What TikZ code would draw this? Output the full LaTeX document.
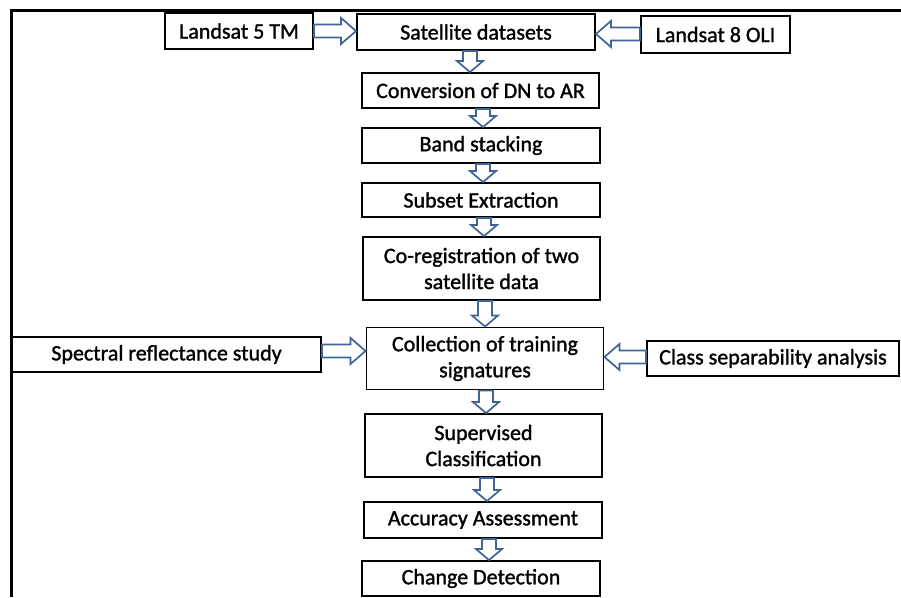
\documentclass[tikz,border=0pt]{standalone}
\usepackage{fontspec}
\setmainfont{Carlito}
\newfontfamily\heavyfont{Carlito}[FakeBold=1.3]
\usetikzlibrary{calc}
\definecolor{arrblue}{RGB}{65,100,150}
\newcommand\darr[3]{\draw[barrow] let \p1=(#1.south), \p2=(#2.north) in
  ({#3pt-7pt},\y1) -- ({#3pt+7pt},\y1) -- ({#3pt+7pt},{\y2+11pt}) -- ({#3pt+13pt},{\y2+11pt})
  -- (#3pt,\y2) -- ({#3pt-13pt},{\y2+11pt}) -- ({#3pt-7pt},{\y2+11pt}) -- cycle;}
\newcommand\rarr[3]{\draw[barrow] let \p1=(#1.east), \p2=(#2.west) in
  (\x1,{-#3pt+6.5pt}) -- ({\x2-15pt},{-#3pt+6.5pt}) -- ({\x2-15pt},{-#3pt+13pt}) -- (\x2,-#3pt)
  -- ({\x2-15pt},{-#3pt-13pt}) -- ({\x2-15pt},{-#3pt-6.5pt}) -- (\x1,{-#3pt-6.5pt}) -- cycle;}
\newcommand\larr[3]{\draw[barrow] let \p1=(#1.west), \p2=(#2.east) in
  (\x1,{-#3pt+6.5pt}) -- ({\x2+15pt},{-#3pt+6.5pt}) -- ({\x2+15pt},{-#3pt+13pt}) -- (\x2,-#3pt)
  -- ({\x2+15pt},{-#3pt-13pt}) -- ({\x2+15pt},{-#3pt-6.5pt}) -- (\x1,{-#3pt-6.5pt}) -- cycle;}
\begin{document}
\begin{tikzpicture}[x=1pt,y=-1pt,
  box/.style={draw=black, line width=1.9pt, inner sep=0pt, align=center,
    font=\heavyfont\fontsize{22}{26}\selectfont, text=black},
  barrow/.style={draw=arrblue, line width=1.7pt, fill=white, line join=miter}]
\useasboundingbox (0,0) rectangle (901,597);
\draw[line width=3pt] (11,597) -- (11,10) -- (901,10);
\node[box, minimum width=148pt, minimum height=36pt] (l5) at (239,31) {Landsat 5 TM};
\node[box, minimum width=238pt, minimum height=36pt] (sat) at (476,32) {Satellite datasets};
\node[box, minimum width=149pt, minimum height=37pt] (l8) at (715.5,34.5) {Landsat 8 OLI};
\node[box, minimum width=237pt, minimum height=35pt] (conv) at (480.5,90.5) {Conversion of DN to AR};
\node[box, minimum width=238pt, minimum height=35pt] (band) at (481,145.5) {Band stacking};
\node[box, minimum width=238pt, minimum height=34pt] (sub) at (481,200) {Subset Extraction};
\node[box, minimum width=237pt, minimum height=63pt] (coreg) at (481.5,268.5) {Co-registration of two\\satellite data};
\node[box, minimum width=309pt, minimum height=35pt] (spec) at (166.5,354.5) {Spectral reflectance study};
\node[box, minimum width=237pt, minimum height=62pt] (coll) at (485,358.5) {Collection of training\\signatures};
\node[box, minimum width=252pt, minimum height=35pt] (cls) at (773,358.5) {Class separability analysis};
\node[box, minimum width=237pt, minimum height=63pt] (sup) at (483.5,445.5) {Supervised\\Classification};
\node[box, minimum width=238pt, minimum height=36pt] (acc) at (483,520) {Accuracy Assessment};
\node[box, minimum width=238pt, minimum height=35pt] (chg) at (481,578.5) {Change Detection};
\rarr{l5}{sat}{31}
\larr{l8}{sat}{34}
\rarr{spec}{coll}{351}
\larr{cls}{coll}{357}
\darr{sat}{conv}{470}
\darr{conv}{band}{483}
\darr{band}{sub}{483}
\darr{sub}{coreg}{484}
\darr{coreg}{coll}{485}
\darr{coll}{sup}{486}
\darr{sup}{acc}{487}
\darr{acc}{chg}{489}
\end{tikzpicture}
\end{document}
